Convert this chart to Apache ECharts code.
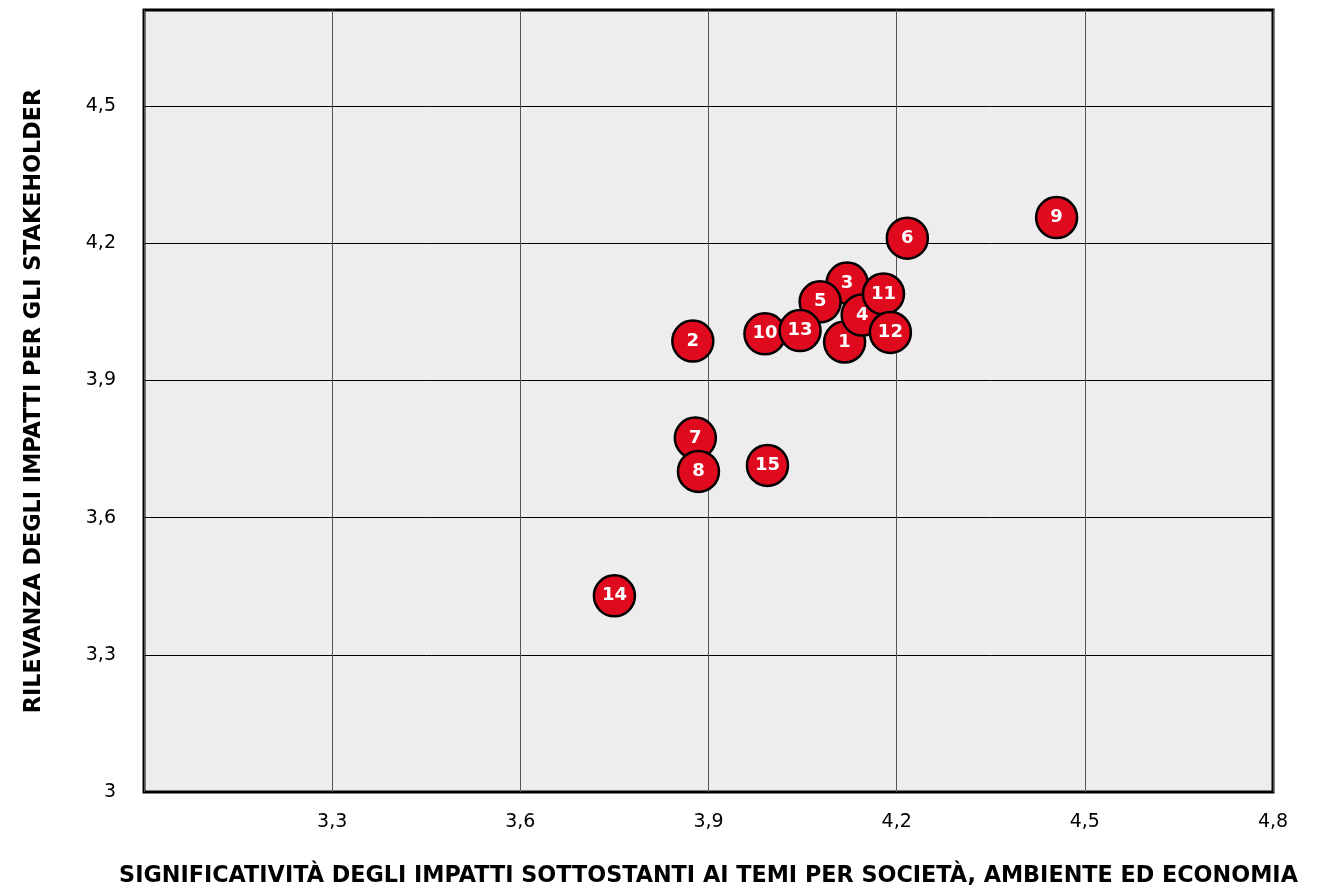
<!DOCTYPE html>
<html>
<head>
<meta charset="utf-8">
<script src="https://cdn.jsdelivr.net/npm/echarts@6/dist/echarts.min.js"></script>
<style>
html,body{margin:0;padding:0;background:#fff;}
#chart{width:1322px;height:893px;}
</style>
</head>
<body>
<div id="chart"></div>
<script>
// Data
const labels = ['1','2','3','4','5','6','7','8','9','10','11','12','13','14','15'];
const xValues = [4.117, 3.875, 4.121, 4.145, 4.078, 4.217, 3.879, 3.884, 4.455, 3.990, 4.179, 4.190, 4.046, 3.750, 3.994];
const yValues = [3.984, 3.986, 4.113, 4.043, 4.072, 4.211, 3.774, 3.701, 4.256, 4.002, 4.089, 4.005, 4.009, 3.429, 3.714];
const xTitle = 'SIGNIFICATIVITÀ DEGLI IMPATTI SOTTOSTANTI AI TEMI PER SOCIETÀ, AMBIENTE ED ECONOMIA';
const yTitle = 'RILEVANZA DEGLI IMPATTI PER GLI STAKEHOLDER';

const points = labels.map((l, i) => ({ name: l, value: [xValues[i], yValues[i]] }));
const fmt = v => (Math.round(v * 10) / 10).toString().replace('.', ',');
const FONT = 'DejaVu Sans';

const chart = echarts.init(document.getElementById('chart'));
chart.setOption({
  animation: false,
  grid: {
    left: 144, top: 10, width: 1129, height: 782,
    show: true, backgroundColor: '#ededed', borderColor: '#000', borderWidth: 3,
    containLabel: false
  },
  xAxis: {
    type: 'value', min: 3.0, max: 4.8, interval: 0.3,
    name: xTitle, nameLocation: 'middle', nameGap: 73,
    nameTextStyle: { fontFamily: FONT, fontWeight: 'bold', fontSize: 22.3, color: '#000' },
    axisLine: { show: false }, axisTick: { show: false },
    axisLabel: { showMinLabel: false, formatter: fmt, margin: 21, fontFamily: FONT, fontSize: 19, color: '#000' },
    splitLine: { show: true, lineStyle: { color: '#555', width: 1 } }
  },
  yAxis: {
    type: 'value', min: 3.0, max: 4.71, interval: 0.3,
    name: yTitle, nameLocation: 'middle', nameGap: 99, nameRotate: 90,
    nameTextStyle: { fontFamily: FONT, fontWeight: 'bold', fontSize: 22.3, color: '#000' },
    axisLine: { show: false }, axisTick: { show: false },
    axisLabel: { showMaxLabel: false, formatter: fmt, margin: 28, fontFamily: FONT, fontSize: 19, color: '#000' },
    splitLine: { show: true, lineStyle: { color: '#000', width: 1 } }
  },
  series: [{
    type: 'scatter',
    data: points,
    symbol: 'circle',
    symbolSize: 41,
    itemStyle: { color: '#e00a1e', borderColor: '#000', borderWidth: 2.5, opacity: 1 },
    label: {
      show: true, position: 'inside', formatter: p => p.name,
      color: '#fff', fontFamily: FONT, fontWeight: 'bold', fontSize: 18
    },
    emphasis: { disabled: true }
  }]
});
</script>
</body>
</html>
